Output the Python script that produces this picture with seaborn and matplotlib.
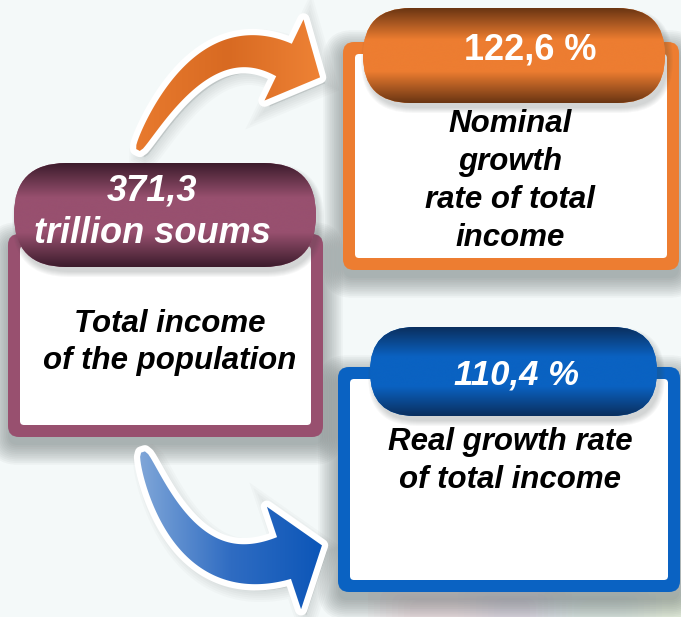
import numpy as np
import pandas as pd
import matplotlib
matplotlib.use("Agg")
import matplotlib.pyplot as plt
from matplotlib.patches import FancyBboxPatch, Polygon
import seaborn as sns

# Infographic values
headline_values = [371.3, 122.6, 110.4]
headline_units = ["\ntrillion soums", " %", " %"]
captions = [
    "Total income\nof the population",
    "Nominal\ngrowth\nrate of total\nincome",
    "Real growth rate\nof total income",
]
frame_colors = ["#98506f", "#ed7d31", "#0a62c2"]
pill_dark = ["#3c1c2c", "#6a3512", "#0b2f5e"]
pill_mid = ["#98506f", "#ed7d31", "#0a62c2"]
value_italic = [True, False, True]

panels = pd.DataFrame({
    "value": headline_values,
    "unit": headline_units,
    "caption": captions,
    "color": frame_colors,
    "dark": pill_dark,
    "mid": pill_mid,
    "italic": value_italic,
})

W, H = 681, 617
BG = "#f4f9f9"

sns.set_theme(style="white")
plt.rcParams["font.family"] = ["Liberation Sans", "DejaVu Sans"]

fig = plt.figure(figsize=(W / 100, H / 100), dpi=100, facecolor=BG)
ax = fig.add_axes([0, 0, 1, 1])
ax.set_xlim(0, W)
ax.set_ylim(H, 0)
ax.set_facecolor(BG)
ax.axis("off")

# layout (pixels): outer frame, pill, caption centre, value centre
frames = [(8, 234, 323, 437), (343, 42, 679, 270), (338, 367, 680, 592)]
pills = [(14, 163, 316, 267), (363, 8, 665, 103), (370, 327, 657, 416)]
caption_xy = [(170, 342), (510, 181), (510, 461)]
value_xy = [(152, 212), (530, 50), (516, 375)]
line_gap = [37, 38, 38]


def shadow(x0, y0, x1, y1, dx=0, dy=8, steps=12):
    for i in range(steps):
        pad = i * 1.8
        ax.add_patch(FancyBboxPatch(
            (x0 + dx - pad, y0 + dy - pad), x1 - x0 + 2 * pad, y1 - y0 + 2 * pad,
            boxstyle=f"round,pad=0,rounding_size={10 + pad}",
            fc="#5f6868", ec="none", alpha=0.05, zorder=1))


def arrow(p0, p1, p2, w0, w1, head_len, head_half, colors, zorder):
    t = np.linspace(0, 1, 80)[:, None]
    p0, p1, p2 = map(np.array, (p0, p1, p2))
    pts = (1 - t) ** 2 * p0 + 2 * (1 - t) * t * p1 + t ** 2 * p2
    tan = 2 * (1 - t) * (p1 - p0) + 2 * t * (p2 - p1)
    tan = tan / np.linalg.norm(tan, axis=1, keepdims=True)
    nrm = np.column_stack([-tan[:, 1], tan[:, 0]])
    w = (w0 + (w1 - w0) * np.sqrt(t)) / 2
    left = pts + nrm * w
    right = pts - nrm * w
    d, n = tan[-1], nrm[-1]
    end = pts[-1]
    head = [end + n * head_half, end + d * head_len, end - n * head_half]
    poly = np.vstack([left, head, right[::-1]])
    # soft shadow
    for k in range(6):
        ax.add_patch(Polygon(poly + np.array([5, 6]), closed=True, fc="#6a7474",
                             ec="#6a7474", lw=2 + k * 3, alpha=0.035, zorder=zorder - 1))
    ax.add_patch(Polygon(poly, closed=True, fc="white", ec="white", lw=9,
                         joinstyle="round", zorder=zorder))
    body = Polygon(poly, closed=True, fc="none", ec="none", zorder=zorder + 1)
    ax.add_patch(body)
    cmap = sns.blend_palette(colors, as_cmap=True)
    xs, ys = poly[:, 0], poly[:, 1]
    grad = np.linspace(0, 1, 256)[None, :]
    im = ax.imshow(grad, cmap=cmap, extent=(xs.min(), xs.max(), ys.max(), ys.min()),
                   aspect="auto", zorder=zorder + 1, interpolation="bicubic")
    im.set_clip_path(body)


# faint background glow at the bottom
for cx, col in [(470, "#e8b4bc"), (640, "#d8e6b8"), (560, "#c8d6ea")]:
    for k in range(8):
        ax.add_patch(FancyBboxPatch((cx - 60 - k * 6, 600 - k * 2), 120 + k * 12, 40,
                                    boxstyle="round,pad=0,rounding_size=10",
                                    fc=col, ec="none", alpha=0.05, zorder=0))

# arrows
arrow((138, 150), (205, 22), (284, 60), 4, 36, 40, 45,
      ["#e87a2e", "#d86a22", "#ee8235"], zorder=2)
arrow((143, 452), (188, 590), (284, 558), 4, 44, 40, 54,
      ["#7fa6d8", "#2f6cc2", "#0c56b8"], zorder=2)

for i, row in panels.iterrows():
    x0, y0, x1, y1 = frames[i]
    shadow(x0, y0, x1, y1)
    ax.add_patch(FancyBboxPatch((x0, y0), x1 - x0, y1 - y0,
                                boxstyle="round,pad=0,rounding_size=11",
                                fc=row["color"], ec="none", zorder=4))
    ax.add_patch(FancyBboxPatch((x0 + 12, y0 + 12), x1 - x0 - 24, y1 - y0 - 24,
                                boxstyle="round,pad=0,rounding_size=4",
                                fc="white", ec="none", zorder=5))

    # gradient pill
    px0, py0, px1, py1 = pills[i]
    r = (py1 - py0) / 2
    for k in range(6):
        ax.add_patch(FancyBboxPatch((px0 + 3 - k, py0 + 5 - k), px1 - px0 + 2 * k, py1 - py0 + 2 * k,
                                    boxstyle=f"round,pad=0,rounding_size={r + k}",
                                    fc="#404848", ec="none", alpha=0.04, zorder=6))
    pill = FancyBboxPatch((px0, py0), px1 - px0, py1 - py0,
                          boxstyle=f"round,pad=0,rounding_size={r}",
                          fc=row["mid"], ec="none", zorder=7)
    ax.add_patch(pill)
    cmap = sns.blend_palette([row["dark"], row["mid"], row["mid"], row["dark"]], as_cmap=True)
    im = ax.imshow(np.linspace(0, 1, 256)[:, None], cmap=cmap,
                   extent=(px0, px1, py1, py0), aspect="auto", zorder=8,
                   interpolation="bicubic", origin="upper")
    im.set_clip_path(pill)

    label = f"{row['value']:.1f}".replace(".", ",") + row["unit"]
    vx, vy = value_xy[i]
    vlines = label.split("\n")
    size = 26 if i < 2 else 25
    for j, ln in enumerate(vlines):
        ax.text(vx, vy + (j - (len(vlines) - 1) / 2) * 43, ln, ha="center", va="center",
                color="white", fontsize=size, fontweight="bold",
                fontstyle="italic" if row["italic"] else "normal", zorder=9)

    cx, cy = caption_xy[i]
    lines = row["caption"].split("\n")
    for j, ln in enumerate(lines):
        ax.text(cx, cy + (j - (len(lines) - 1) / 2) * line_gap[i], ln,
                ha="center", va="center", color="black", fontsize=22.5,
                fontweight="bold", fontstyle="italic", zorder=9)

fig.savefig("out.png", dpi=100, facecolor=BG)
